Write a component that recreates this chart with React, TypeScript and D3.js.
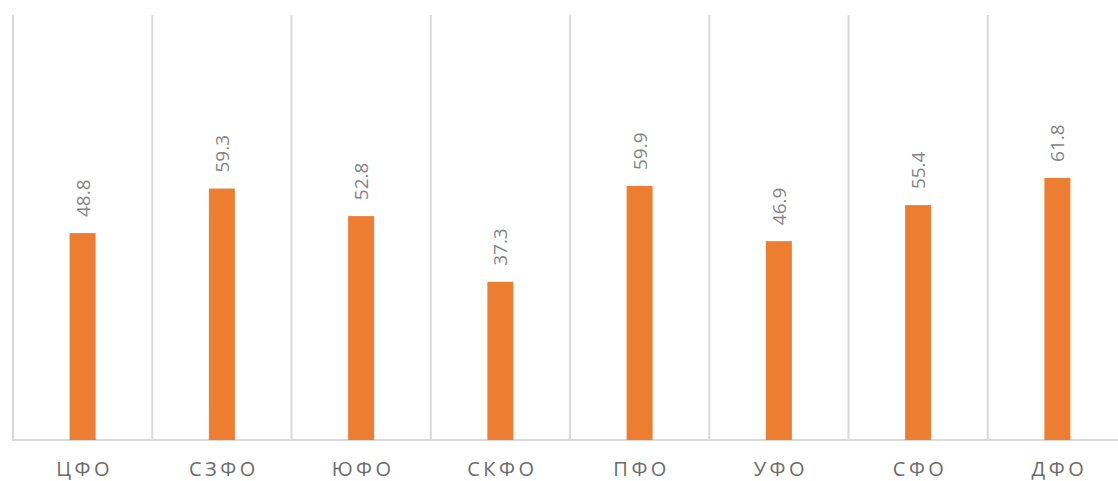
import React from "react";
import * as d3 from "d3";

const categories = ["ЦФО", "СЗФО", "ЮФО", "СКФО", "ПФО", "УФО", "СФО", "ДФО"];
const values = [48.8, 59.3, 52.8, 37.3, 59.9, 46.9, 55.4, 61.8];

const W = 1118;
const H = 481;
const left = 13;
const right = 1127;
const baseY = 440;
const topY = 16;

export default function App() {
  const x = d3.scaleBand<string>().domain(categories).range([left, right]).padding(0);
  const y = d3.scaleLinear().domain([0, 100]).range([baseY, topY]);
  const bw = 26;
  const font = "'Open Sans', 'Segoe UI', sans-serif";
  return (
    <svg width={W} height={H} style={{ position: "absolute", left: 0, top: 0 }}>
      {categories.map((c) => (
        <line key={"g" + c} x1={x(c)!} x2={x(c)!} y1={15} y2={baseY} stroke="#d9d9d9" strokeWidth={2} />
      ))}
      <line x1={left - 1} x2={W} y1={baseY} y2={baseY} stroke="#d9d9d9" strokeWidth={2} />
      {categories.map((c, i) => {
        const cx = x(c)! + x.bandwidth() / 2;
        return (
          <g key={c}>
            <rect x={cx - bw / 2} y={y(values[i])} width={bw} height={baseY - y(values[i])} fill="#ED7D31" />
            <text
              transform={`translate(${cx + 7},${y(values[i]) - 16}) rotate(-90)`}
              fontFamily={font}
              fontSize={19}
              fill="#858585"
            >
              {values[i].toFixed(1)}
            </text>
            <text
              x={cx + 2}
              y={476}
              textAnchor="middle"
              fontFamily={font}
              fontSize={20}
              letterSpacing={3.5}
              fill="#6b6b6b"
            >
              {c}
            </text>
          </g>
        );
      })}
    </svg>
  );
}
